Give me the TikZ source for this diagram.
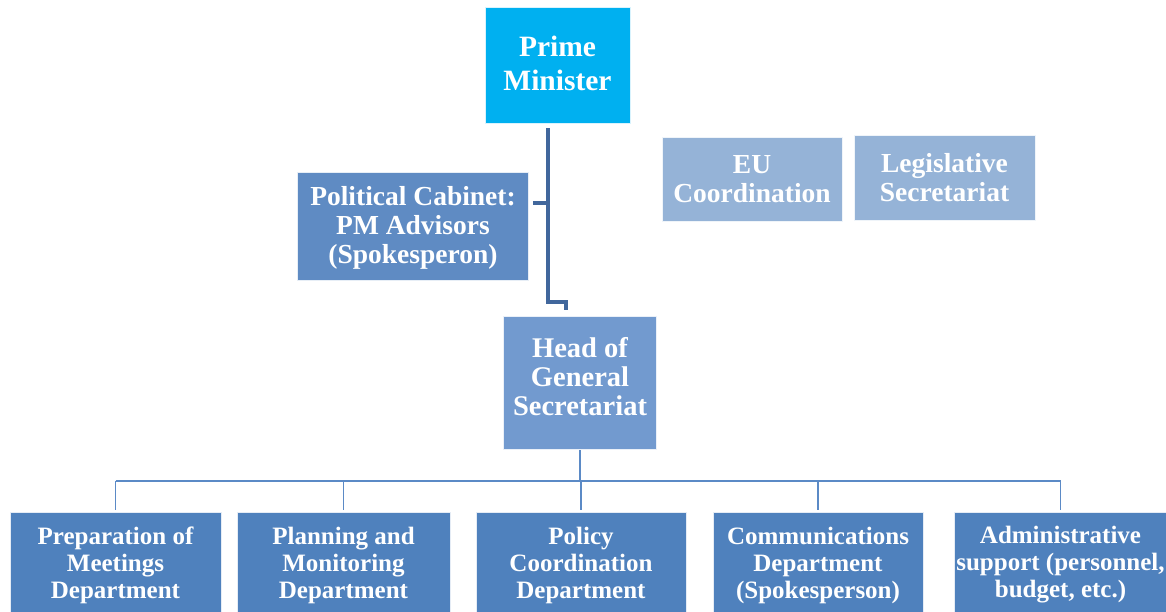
\documentclass[tikz,border=0pt]{standalone}
\usepackage{fontspec}
\setmainfont{Liberation Serif}
\usetikzlibrary{calc}
\definecolor{pmblue}{HTML}{00B0F0}
\definecolor{cabblue}{HTML}{5F8BC3}
\definecolor{headblue}{HTML}{729ACF}
\definecolor{paleblue}{HTML}{95B3D7}
\definecolor{deptblue}{HTML}{4F81BD}
\definecolor{thickline}{HTML}{41679C}
\definecolor{thinline}{HTML}{5B8AC6}
\tikzset{
  orgbox/.style={draw=white!85!#1, line width=0.8pt, fill=#1, text=white,
    inner sep=0pt, align=center, font=\bfseries},
  boxtext/.style={text=white, inner sep=0pt, align=center, font=\bfseries},
  mainline/.style={draw=thickline, line width=4pt},
  treeline/.style={draw=thinline, line width=1.5pt},
}
\begin{document}
\begin{tikzpicture}[x=1pt,y=-1pt]
\useasboundingbox (0,0) rectangle (1166,612);

% top of the hierarchy
\node[orgbox=pmblue, minimum width=145pt, minimum height=116pt] (pm) at (557.5,65) {};
\node[boxtext, font=\bfseries\fontsize{29.5}{34}\selectfont] (pmtext)
      at ($(pm.center)+(0,-2)$) {Prime\\Minister};

\node[orgbox=cabblue, minimum width=231pt, minimum height=108pt] (pol) at (413,226) {};
\node[boxtext, font=\bfseries\fontsize{27.5}{29}\selectfont] (poltext)
      at ($(pol.center)+(0,1.5)$) {Political Cabinet:\\PM Advisors\\(Spokesperon)};

\node[orgbox=paleblue, minimum width=180pt, minimum height=84pt,
      font=\bfseries\fontsize{27.5}{29}\selectfont] (eu) at (752,179) {EU\\Coordination};

\node[orgbox=paleblue, minimum width=181pt, minimum height=85pt,
      font=\bfseries\fontsize{27.5}{29}\selectfont] (leg) at (944.5,177.5) {Legislative\\Secretariat};

\node[orgbox=headblue, minimum width=153pt, minimum height=133pt] (head) at (580,382.5) {};
\node[boxtext, font=\bfseries\fontsize{28.5}{29}\selectfont] (headtext)
      at ($(head.center)+(0,-6)$) {Head of\\General\\Secretariat};

% departments (boxes run past the lower edge)
\tikzset{dept/.style={orgbox=deptblue, minimum height=106pt,
      font=\bfseries\fontsize{25}{27}\selectfont}}
\node[dept, minimum width=211pt] (d1) at (115.5,565)
      {Preparation of\\Meetings\\Department};
\node[dept, minimum width=213pt] (d2) at (343.5,565)
      {Planning and\\Monitoring\\Department};
\node[dept, minimum width=210pt] (d3) at (581,565)
      {Policy\\Coordination\\Department};
\node[dept, minimum width=210pt] (d4) at (818,565)
      {Communications\\Department\\(Spokesperson)};
\node[dept, minimum width=213pt] (d5) at (1060.5,565)
      {Administrative\\support (personnel,\\budget, etc.)};

% line from the Prime Minister down to the General Secretariat
\draw[mainline] ([xshift=-9.5pt,yshift=-5pt]pm.south) -- ++(0,174)
  -| ([xshift=-14pt,yshift=6pt]head.north);
\draw[mainline] ([xshift=4pt,yshift=23pt]pol.east) -- ++(15.5,0);

% department tree
\coordinate (bus) at (580,481);
\draw[treeline] ([yshift=-1pt]head.south) -- (head.south |- bus);
\draw[treeline] (d1.north |- bus) -- (d5.north |- bus);
\foreach \d in {d1,d2,d3,d4,d5}
  \draw[treeline] (\d.north |- bus) -- ([yshift=2pt]\d.north);
\end{tikzpicture}
\end{document}
